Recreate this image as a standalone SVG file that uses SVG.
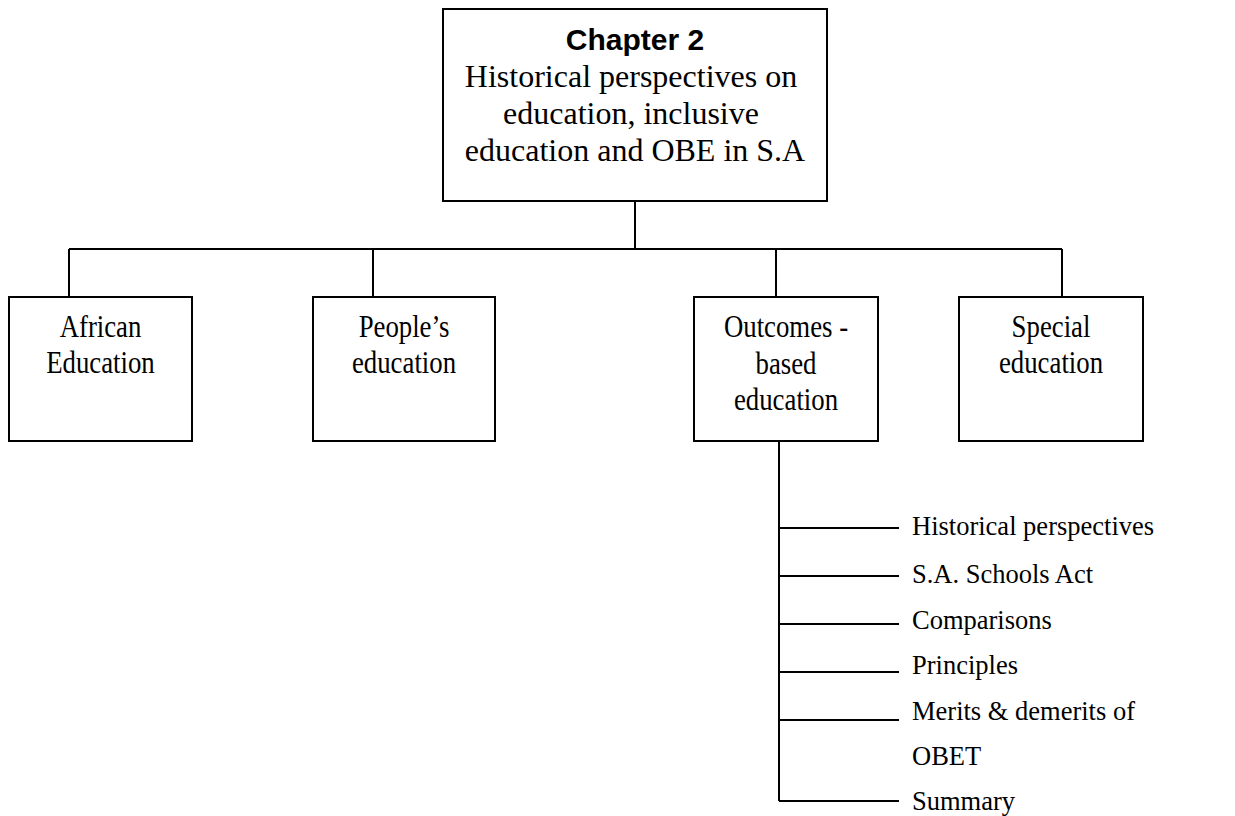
<svg xmlns="http://www.w3.org/2000/svg" width="1235" height="816" viewBox="0 0 1235 816">
<style>
.box{fill:#fff;stroke:#000;stroke-width:2}
.ln{stroke:#000;stroke-width:2;fill:none}
.t{font-family:"Liberation Serif","Times New Roman",serif;fill:#000}
.h{font-family:"Liberation Sans",Arial,sans-serif;font-weight:bold;fill:#000}
.c{font-family:"Liberation Serif","Times New Roman",serif;font-size:31.5px;fill:#000;text-anchor:middle}
.s{font-family:"Liberation Serif","Times New Roman",serif;font-size:26.5px;fill:#000}
</style>
<rect width="1235" height="816" fill="#fff"/>
<g id="connectors">
<path class="ln" d="M635,201 V249 M69,249 H1062 M69,249 V297 M373,249 V297 M776,249 V297 M1062,249 V297"/>
<path class="ln" d="M779,441 V801 M779,528 H899 M779,576 H899 M779,624 H899 M779,672 H899 M779,720 H899 M779,801 H899"/>
</g>
<g id="chapter2">
<rect class="box" x="443" y="9" width="384" height="192"/>
<text class="h" x="635" y="50" font-size="30" text-anchor="middle">Chapter 2</text>
<text class="t" font-size="32" text-anchor="middle">
<tspan x="635" y="87">Historical perspectives on</tspan>
<tspan x="635" y="124">education, inclusive</tspan>
<tspan x="635" y="160.5">education and OBE in S.A</tspan>
</text>
</g>
<g id="african">
<rect class="box" x="9" y="297" width="183" height="144"/>
<g transform="translate(100.5,0) scale(0.85,1)"><text class="c"><tspan x="0" y="337.5">African</tspan><tspan x="0" y="373.5">Education</tspan></text></g>
</g>
<g id="peoples">
<rect class="box" x="313" y="297" width="182" height="144"/>
<g transform="translate(404,0) scale(0.85,1)"><text class="c"><tspan x="0" y="337.5">People’s</tspan><tspan x="0" y="373.5">education</tspan></text></g>
</g>
<g id="obe">
<rect class="box" x="694" y="297" width="184" height="144"/>
<g transform="translate(786,0) scale(0.85,1)"><text class="c"><tspan x="0" y="337.5">Outcomes -</tspan><tspan x="0" y="374">based</tspan><tspan x="0" y="410.5">education</tspan></text></g>
</g>
<g id="special">
<rect class="box" x="959" y="297" width="184" height="144"/>
<g transform="translate(1051,0) scale(0.85,1)"><text class="c"><tspan x="0" y="337.5">Special</tspan><tspan x="0" y="373.5">education</tspan></text></g>
</g>
<g id="obe-items">
<text class="s" x="912" y="535">Historical perspectives</text>
<text class="s" x="912" y="582.5">S.A. Schools Act</text>
<text class="s" x="912" y="628.5">Comparisons</text>
<text class="s" x="912" y="673.5">Principles</text>
<text class="s" x="912" y="719.5">Merits &amp; demerits of</text>
<text class="s" x="912" y="765">OBET</text>
<text class="s" x="912" y="810">Summary</text>
</g>
</svg>
